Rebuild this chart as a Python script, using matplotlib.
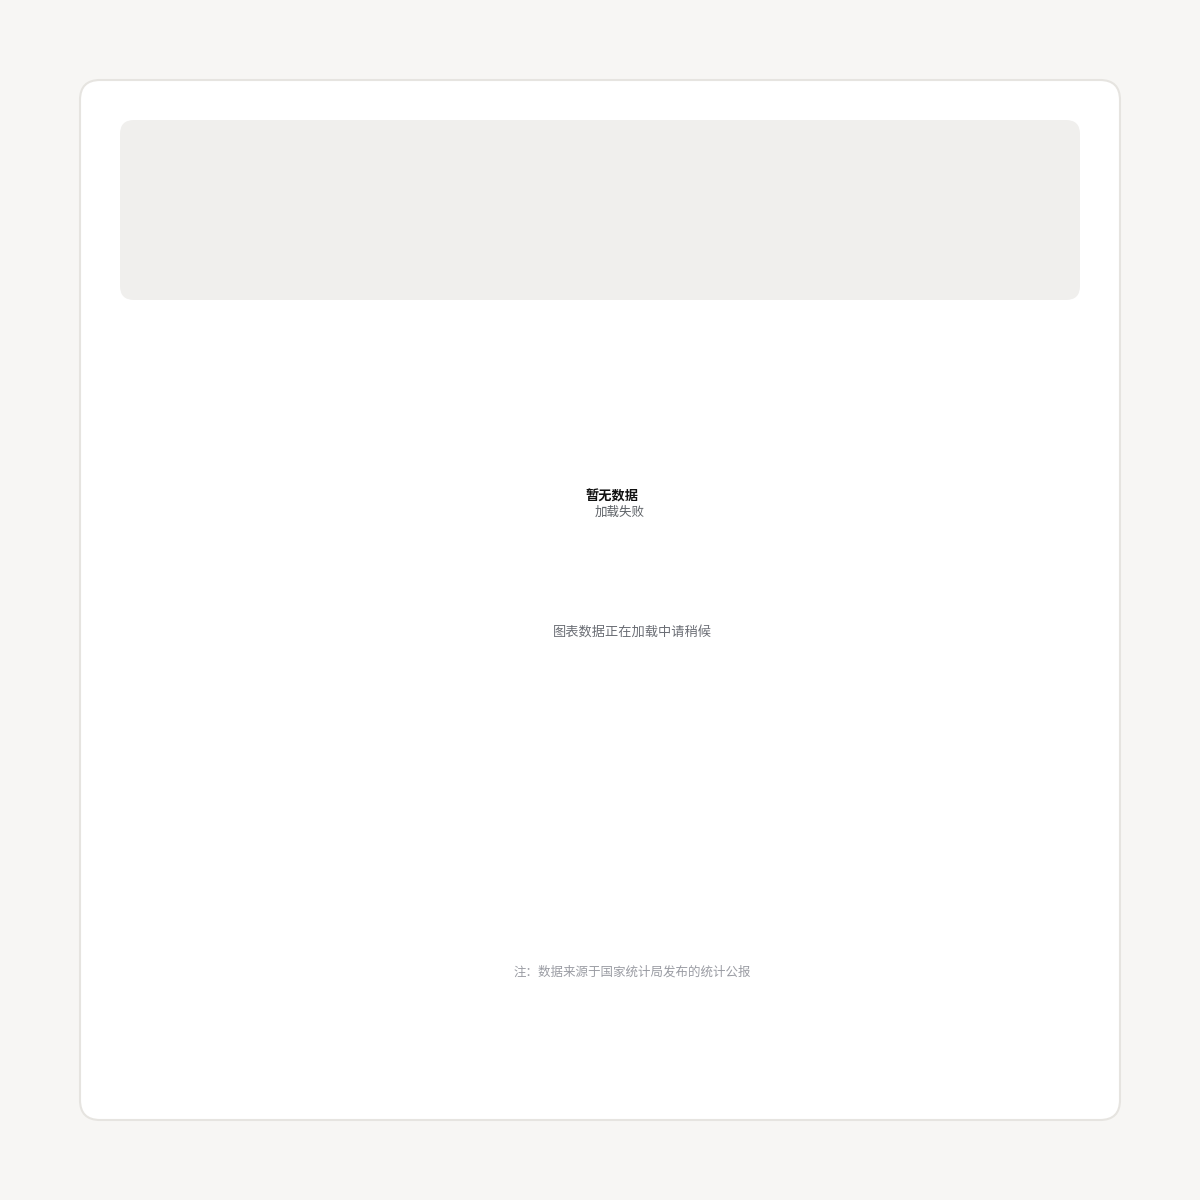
import matplotlib
matplotlib.use("Agg")
import matplotlib.pyplot as plt
from matplotlib.patches import FancyBboxPatch

plt.rcParams['font.family'] = ['Noto Sans CJK SC', 'DejaVu Sans']

# Texts of the (empty) chart card
title = "暂无数据"
subtitle = "加载失败"
message = "图表数据正在加载中请稍候"
footer = "注：数据来源于国家统计局发布的统计公报"

# Text anchors in pixel coordinates (x centre, y centre)
title_pos = (612, 497)
subtitle_pos = (620, 512)
message_pos = (632, 632)
footer_pos = (632, 972)

fig = plt.figure(figsize=(12, 12), dpi=100)
fig.patch.set_facecolor('#f7f6f4')
ax = fig.add_axes([0, 0, 1, 1])
ax.set_xlim(0, 1200)
ax.set_ylim(1200, 0)
ax.axis('off')

# Outer card
card = FancyBboxPatch((80, 80), 1040, 1040,
                      boxstyle="round,pad=0,rounding_size=20",
                      facecolor='white', edgecolor='#e6e4e0', linewidth=1.5)
ax.add_patch(card)

# Header placeholder block
header = FancyBboxPatch((120, 120), 960, 180,
                        boxstyle="round,pad=0,rounding_size=14",
                        facecolor='#f0efed', edgecolor='none')
ax.add_patch(header)

ax.text(*title_pos, title, ha='center', va='center', fontsize=9.5,
        fontweight='bold', color='#111111')
ax.text(*subtitle_pos, subtitle, ha='center', va='center', fontsize=9,
        color='#5f6368')
ax.text(*message_pos, message, ha='center', va='center', fontsize=9.5,
        color='#6b6e75')
ax.text(*footer_pos, footer, ha='center', va='center', fontsize=9,
        color='#9a9ca3')

fig.savefig("out.png", dpi=100, facecolor=fig.get_facecolor())
